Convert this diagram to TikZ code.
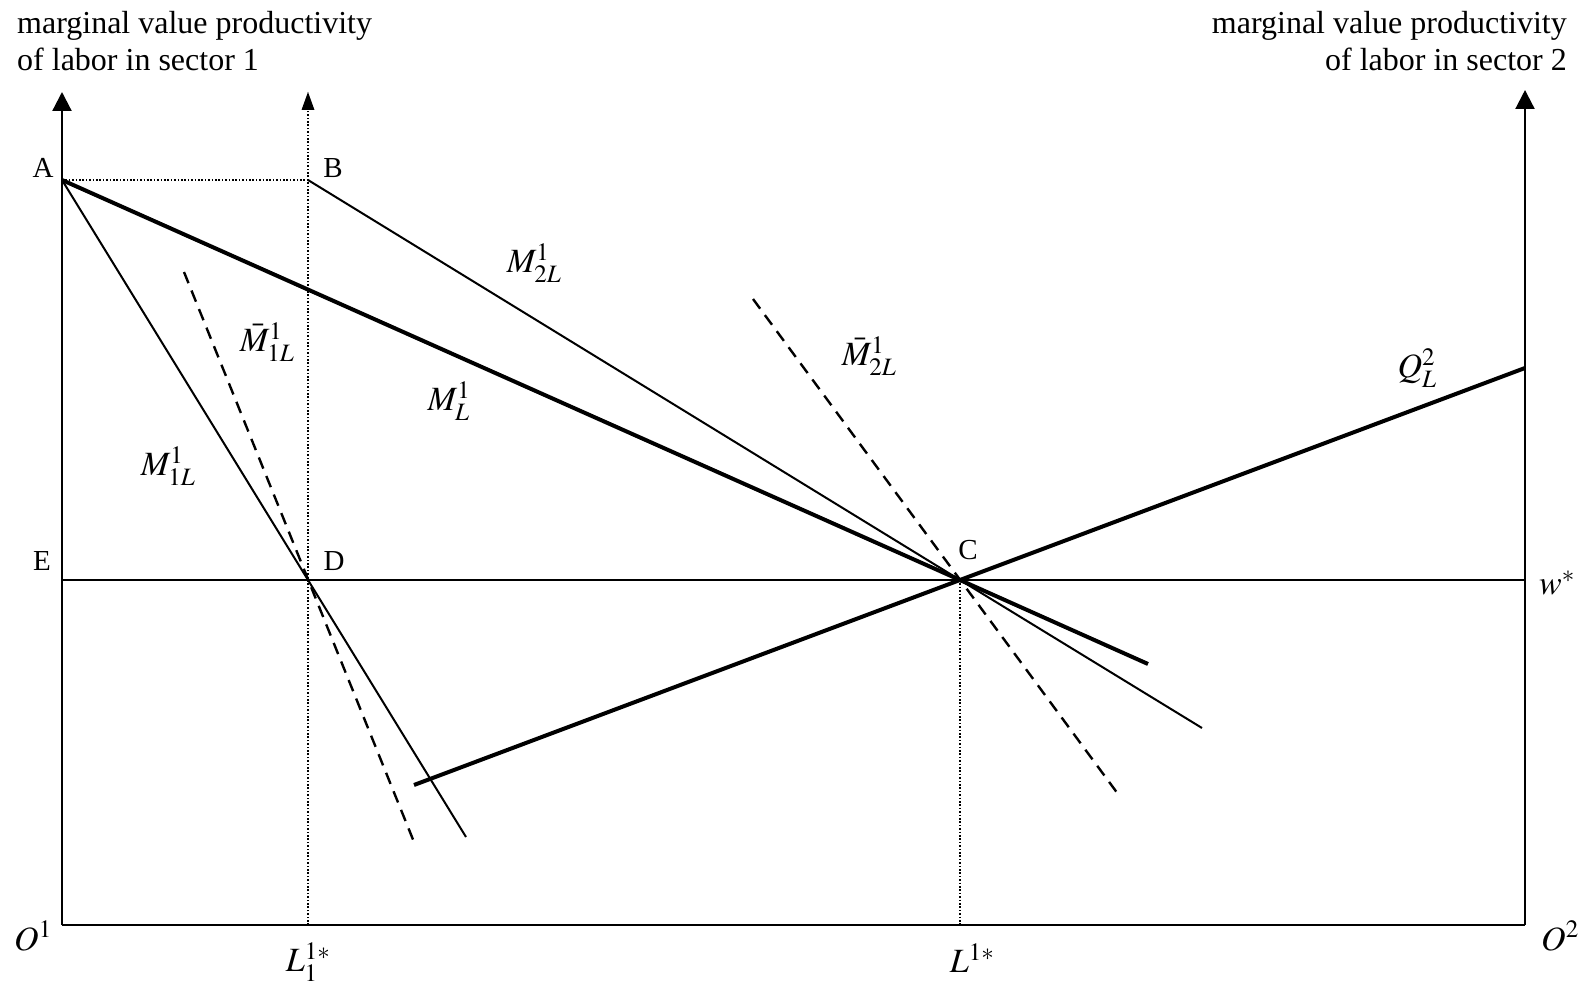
\documentclass[tikz,border=0pt]{standalone}
\usepackage{mathptmx}
\usepackage{fontspec}
\setmainfont{Liberation Serif}
\DeclareMathSizes{34}{34}{25}{19}
\usetikzlibrary{arrows.meta}
\begin{document}
\begin{tikzpicture}[x=1pt,y=-1pt,
  axisline/.style={line width=2.2pt},
  thinline/.style={line width=2pt},
  thickline/.style={line width=4pt},
  dotline/.style={line width=1.1pt,dash pattern=on 1.6pt off 1.8pt},
  dashline/.style={line width=2.4pt,dash pattern=on 12pt off 8pt},
  bigtip/.style={-{Triangle[width=19pt,length=19pt]}},
  lbl/.style={inner sep=0pt,font=\fontsize{29}{34}\selectfont},
  mlbl/.style={inner sep=0pt,font=\fontsize{34}{40}\selectfont},
  toptext/.style={inner sep=0pt,font=\fontsize{32}{37}\selectfont}
]
\useasboundingbox (0,0) rectangle (1590,984);
% key points
\coordinate (O1) at (62,925);
\coordinate (O2) at (1525,925);
\coordinate (Y1) at (62,92);
\coordinate (Y2) at (1525,90);
\coordinate (Ltop) at (308,92);
\coordinate (L1) at (308,925);
\coordinate (L2) at (960,925);
\coordinate (A) at (62,180);
\coordinate (B) at (308,180);
\coordinate (C) at (960,580);
\coordinate (D) at (308,580);
\coordinate (E) at (62,580);
\coordinate (W) at (1525,580);
\coordinate (M1end) at (466,837);
\coordinate (MLend) at (1148,664);
\coordinate (M2end) at (1202,728);
\coordinate (Qleft) at (414,785);
\coordinate (Qright) at (1525,368);
\coordinate (Mb1a) at (184,272);
\coordinate (Mb1b) at (414,842);
\coordinate (Mb2a) at (753,299);
\coordinate (Mb2b) at (1118,794);
% axes
\draw[axisline,bigtip] (O1) -- (Y1);
\draw[axisline,bigtip] (O2) -- (Y2);
\draw[axisline] (O1) -- (O2);
% dotted guides
\draw[dotline] (L1) -- (Ltop);
\fill (Ltop) -- ++(-6.5,18) -- ++(13,0) -- cycle;
\draw[dotline] (A) -- (B);
\draw[dotline] (C) -- (L2);
% wage line
\draw[thinline] (E) -- (W);
% curves
\draw[thinline] (A) -- (D) -- (M1end);
\draw[thinline] (B) -- (C) -- (M2end);
\draw[thickline] (A) -- (C) -- (MLend);
\draw[thickline] (Qleft) -- (C) -- (Qright);
\draw[dashline] (Mb1a) -- (Mb1b);
\draw[dashline] (Mb2a) -- (Mb2b);
% point labels
\node[lbl] (lA) at (43,168) {A};
\node[lbl] (lB) at (333,168) {B};
\node[lbl] (lE) at (42,561) {E};
\node[lbl] (lD) at (334,561) {D};
\node[lbl] (lC) at (968,550) {C};
% math labels
\node[mlbl] (lM1) at (168,466) {$M^1_{1L}$};
\node[mlbl] (lMb1) at (267,342) {$\bar{M}^1_{1L}$};
\node[mlbl] (lML) at (449,401) {$M^1_{L}$};
\node[mlbl] (lM2) at (534,263) {$M^1_{2L}$};
\node[mlbl] (lMb2) at (869,356) {$\bar{M}^1_{2L}$};
\node[mlbl] (lQ) at (1417,368) {$Q^2_{L}$};
\node[mlbl] (lw) at (1557,583) {$w^*$};
\node[mlbl] (lO1) at (33,936) {$O^1$};
\node[mlbl] (lO2) at (1560,936) {$O^2$};
\node[mlbl] (lL1) at (308,962) {$L^{1*}_1$};
\node[mlbl] (lL2) at (972,958) {$L^{1*}$};
% axis titles
\node[toptext,anchor=north west,align=left] (t1) at (17,11) {marginal value productivity\\of labor in sector 1};
\node[toptext,anchor=north east,align=right] (t2) at (1567,11) {marginal value productivity\\of labor in sector 2};
\end{tikzpicture}
\end{document}
